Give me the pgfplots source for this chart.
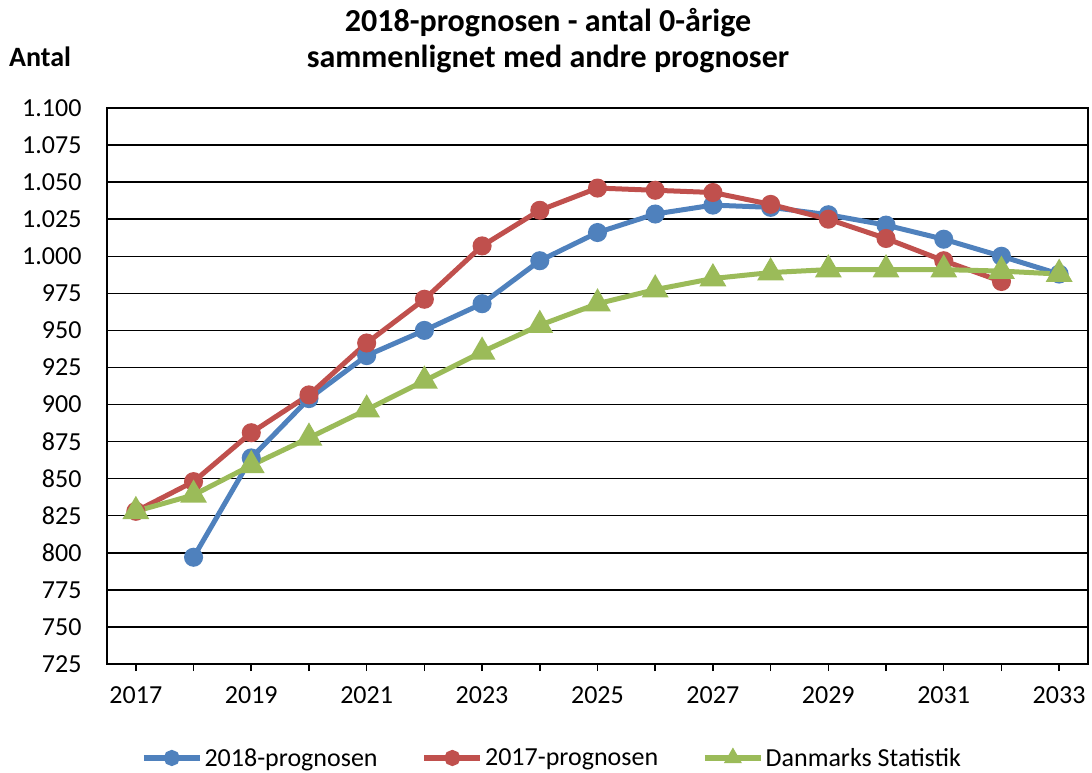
\documentclass[border=0pt]{standalone}
\usepackage{fontspec}
\setmainfont{Carlito}
\usepackage{pgfplots}
\pgfplotsset{compat=1.18}
\definecolor{cblue}{HTML}{4F81BD}
\definecolor{cred}{HTML}{C0504D}
\definecolor{cgreen}{HTML}{9BBB59}
\pgfplotstableread{
year val
2018 797
2019 864
2020 904
2021 933
2022 950
2023 968
2024 997
2025 1016
2026 1028.5
2027 1034.5
2028 1033
2029 1028
2030 1021
2031 1011.5
2032 1000
2033 988
}\blue
\pgfplotstableread{
year val
2017 828
2018 848
2019 881
2020 906.5
2021 941.5
2022 971
2023 1007
2024 1031
2025 1046
2026 1044.5
2027 1043
2028 1035
2029 1025
2030 1012
2031 997
2032 983
}\red
\pgfplotstableread{
year val
2017 828
2018 839
2019 859
2020 877.5
2021 896.5
2022 916
2023 935.5
2024 953.5
2025 968
2026 977.5
2027 985
2028 989
2029 991
2030 991
2031 991
2032 990
2033 988
}\green
\begin{document}
\begin{tikzpicture}[x=1pt,y=1pt]
\path[use as bounding box] (0,0) rectangle (1092,772);
\node[font=\fontsize{32}{36}\selectfont\bfseries, anchor=base, inner sep=0pt] at (548,740) {2018-prognosen - antal 0-årige};
\node[font=\fontsize{32}{36}\selectfont\bfseries, anchor=base, inner sep=0pt] at (548,704) {sammenlignet med andre prognoser};
\node[font=\fontsize{28}{32}\selectfont\bfseries, anchor=base west, inner sep=0pt] at (9,705) {Antal};
\begin{axis}[
  at={(107pt,108pt)}, anchor=south west,
  scale only axis, width=981pt, height=556pt,
  xmin=2016.5, xmax=2033.5, ymin=725, ymax=1100,
  xtick={2017,...,2033},
  xticklabels={2017,,2019,,2021,,2023,,2025,,2027,,2029,,2031,,2033},
  ytick={725,750,...,1100},
  ymajorgrids,
  grid style={black, line width=1.5pt},
  axis line style={black, line width=1.5pt},
  xtick pos=bottom, tick align=outside,
  major tick length=7pt,
  xtick style={black, line width=1.5pt},
  ytick style={draw=none},
  ticklabel style={font=\fontsize{26}{30}\selectfont},
  yticklabel style={xshift=-15pt},
  xticklabel style={yshift=-12pt},
  /pgf/number format/.cd, 1000 sep={.}, assume math mode=true,
  /pgfplots/.cd,
  clip=false,
  legend columns=3,
  legend style={at={(0.4536,-0.169)}, anchor=center, draw=none,
    font=\fontsize{26}{30}\selectfont,
    /tikz/every even column/.append style={column sep=42pt}},
  legend image code/.code={
    \draw[#1, line width=5.5pt] (0pt,0pt) -- (56pt,0pt);
    \path[#1, mark size=5.5pt] plot[only marks] coordinates {(28pt,0pt)};
  },
]
\addplot[cblue, line width=5pt, mark=*, mark size=7pt] table[x=year,y=val] {\blue};
\addlegendentry{2018-prognosen}
\addplot[cred, line width=5pt, mark=*, mark size=7pt] table[x=year,y=val] {\red};
\addlegendentry{2017-prognosen}
\addplot[cgreen, line width=5pt, mark=triangle*, mark size=10.5pt] table[x=year,y=val] {\green};
\addlegendentry{Danmarks Statistik}
\end{axis}
\end{tikzpicture}
\end{document}
